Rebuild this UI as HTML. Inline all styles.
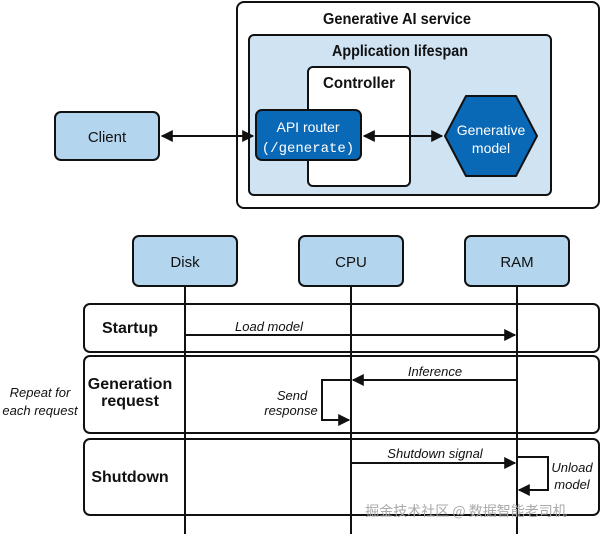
<!DOCTYPE html><html><head><style>body{margin:0;background:#fff}</style></head><body>
<svg width="600" height="534" viewBox="0 0 600 534" xmlns="http://www.w3.org/2000/svg" font-family="Liberation Sans, sans-serif">
<defs><marker id="a" viewBox="0 0 10 10" refX="9" refY="5" markerWidth="6" markerHeight="6" orient="auto-start-reverse"><path d="M0,0L10,5L0,10z" fill="#111"/></marker></defs>
<g stroke="#111" stroke-width="2">
<rect x="237" y="2" width="362" height="206" rx="7" fill="#fff"/>
<rect x="249" y="35" width="302" height="160" rx="5" fill="#cfe3f3"/>
<rect x="308" y="67" width="102" height="119" rx="5" fill="#fff"/>
<rect x="55" y="112" width="104" height="48" rx="6" fill="#b3d5ee"/>
<rect x="256" y="110" width="105" height="50" rx="6" fill="#0a69b6"/>
<polygon points="466,96 516,96 537,136 516,176 466,176 445,136" fill="#0a69b6" stroke-linejoin="round"/>
<line x1="162" y1="136" x2="253" y2="136" marker-start="url(#a)" marker-end="url(#a)"/>
<line x1="364" y1="136" x2="442" y2="136" marker-start="url(#a)" marker-end="url(#a)"/>
<rect x="84" y="304" width="515" height="48" rx="6" fill="#fff"/>
<rect x="84" y="356" width="515" height="77" rx="6" fill="#fff"/>
<rect x="84" y="439" width="515" height="76" rx="6" fill="#fff"/>
<rect x="133" y="236" width="104" height="50" rx="6" fill="#b3d5ee"/>
<rect x="299" y="236" width="104" height="50" rx="6" fill="#b3d5ee"/>
<rect x="465" y="236" width="104" height="50" rx="6" fill="#b3d5ee"/>
<line x1="185" y1="286" x2="185" y2="534"/><line x1="351" y1="286" x2="351" y2="534"/><line x1="517" y1="286" x2="517" y2="534"/>
<line x1="185" y1="335" x2="515" y2="335" marker-end="url(#a)"/>
<line x1="517" y1="380" x2="353" y2="380" marker-end="url(#a)"/>
<polyline points="351,380 322,380 322,420 349,420" fill="none" marker-end="url(#a)"/>
<line x1="351" y1="463" x2="515" y2="463" marker-end="url(#a)"/>
<polyline points="517,457 548,457 548,490 519,490" fill="none" marker-end="url(#a)"/>
</g>
<g font-size="16" text-anchor="middle" fill="#111">
<text x="397" y="24" font-weight="bold" textLength="148" lengthAdjust="spacingAndGlyphs">Generative AI service</text>
<text x="400" y="56" font-weight="bold" textLength="136" lengthAdjust="spacingAndGlyphs">Application lifespan</text>
<text x="359" y="88" font-weight="bold" textLength="72" lengthAdjust="spacingAndGlyphs">Controller</text>
<text x="107" y="142" font-size="15">Client</text>
<text x="308" y="132" font-size="14" fill="#fff">API router</text>
<text x="308" y="152" font-size="14" fill="#fff" font-family="Liberation Mono, monospace">(/generate)</text>
<text x="491" y="135" font-size="14" fill="#fff">Generative</text>
<text x="491" y="153" font-size="14" fill="#fff">model</text>
<text x="185" y="267" font-size="15">Disk</text>
<text x="351" y="267" font-size="15">CPU</text>
<text x="517" y="267" font-size="15">RAM</text>
<text x="130" y="333" font-weight="bold">Startup</text>
<text x="130" y="389" font-weight="bold">Generation</text>
<text x="130" y="406" font-weight="bold">request</text>
<text x="130" y="482" font-weight="bold">Shutdown</text>
<g font-style="italic" font-size="13">
<text x="40" y="397">Repeat for</text><text x="40" y="415">each request</text>
<text x="269" y="331">Load model</text>
<text x="435" y="376">Inference</text>
<text x="292" y="400">Send</text><text x="291" y="415">response</text>
<text x="435" y="458">Shutdown signal</text>
<text x="572" y="472">Unload</text><text x="572" y="489">model</text>
</g>
<text x="466" y="516" font-size="14" fill="#aaa" font-family="Noto Sans CJK SC, sans-serif">掘金技术社区 @ 数据智能老司机</text>
</g>
</svg></body></html>
